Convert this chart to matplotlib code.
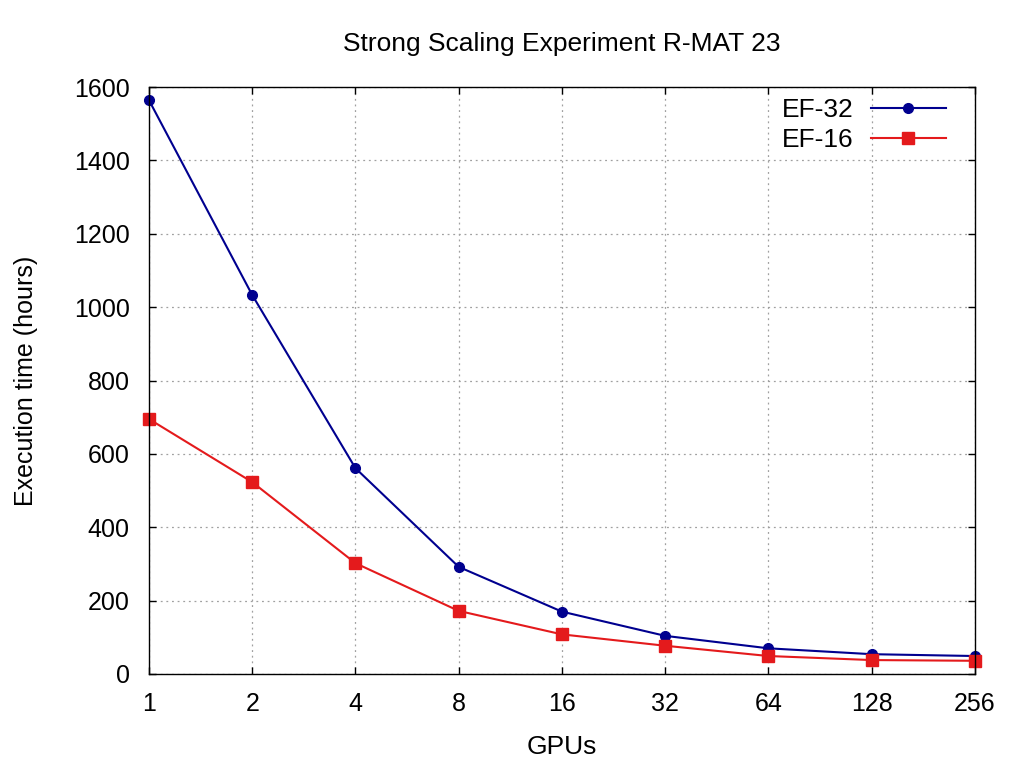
import matplotlib.pyplot as plt
from matplotlib.ticker import FixedLocator, NullLocator

plt.rcParams['font.family'] = ['Liberation Sans', 'DejaVu Sans']

gpus = [1, 2, 4, 8, 16, 32, 64, 128, 256]
gpu_labels = ['1', '2', '4', '8', '16', '32', '64', '128', '256']
ef32 = [1564, 1033, 561, 292, 170, 104, 70, 54, 49]
ef16 = [695, 523, 302, 172, 108, 77, 49, 38, 36]

fig = plt.figure(figsize=(10.24, 7.68), dpi=100)
ax = fig.add_axes([0.1455, 0.1224, 0.8065, 0.7643])

ax.plot(gpus, ef32, color='#00008f', marker='o', markersize=7, linewidth=1.5, label='EF-32', clip_on=False)
ax.plot(gpus, ef16, color='#e41a1c', marker='s', markersize=8, linewidth=1.5, label='EF-16', clip_on=False)

ax.set_xscale('log', base=2)
ax.set_xlim(1, 256)
ax.set_ylim(0, 1600)
ax.xaxis.set_major_locator(FixedLocator(gpus))
ax.xaxis.set_minor_locator(NullLocator())
ax.set_xticklabels(gpu_labels)
ax.set_yticks(range(0, 1601, 200))

ax.tick_params(direction='in', length=5, width=1, top=True, right=True, labelsize=18)
ax.tick_params(axis='x', pad=13)
ax.tick_params(axis='y', pad=14)
ax.grid(True, linestyle=(0, (1.5, 3)), color='#a0a0a0', linewidth=0.9)
for s in ax.spines.values():
    s.set_linewidth(1)

ax.set_title('Strong Scaling Experiment R-MAT 23', fontsize=19, pad=26)
ax.set_xlabel('GPUs', fontsize=19, labelpad=14)
ax.set_ylabel('Execution time (hours)', fontsize=18, labelpad=26)

# legend: label on the left, sample on the right (gnuplot style)
leg = ax.legend(loc='upper right', bbox_to_anchor=(0.965, 0.981), frameon=False, fontsize=19,
                markerfirst=False, handlelength=2.85, handletextpad=0.65,
                borderpad=0, borderaxespad=0, labelspacing=0.22)

plt.savefig('out.png', dpi=100)
